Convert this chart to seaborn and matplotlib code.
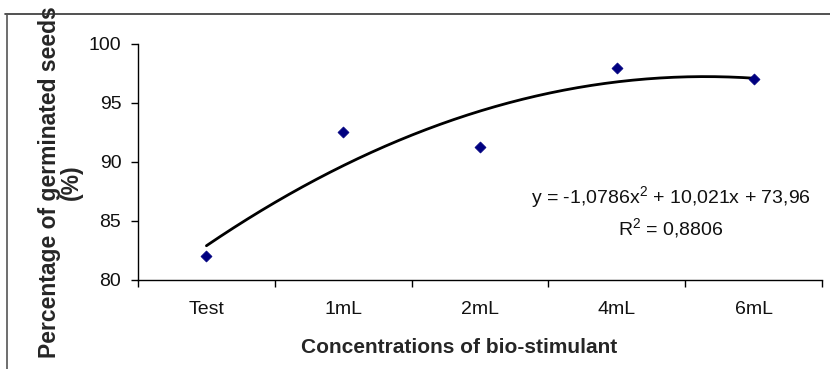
import numpy as np
import pandas as pd
import matplotlib.pyplot as plt
import seaborn as sns

# Data
categories = ['Test', '1mL', '2mL', '4mL', '6mL']
germinated = [82.0, 92.5, 91.3, 98.0, 97.0]
# polynomial trendline coefficients (as printed on the chart)
trend_coef = [-1.0786, 10.021, 73.96]
r_squared = 0.8806

sns.set_theme(style='white')
plt.rcParams['font.family'] = ['Liberation Sans', 'DejaVu Sans']
plt.rcParams['mathtext.fontset'] = 'custom'
plt.rcParams['mathtext.rm'] = 'Liberation Sans'
plt.rcParams['mathtext.it'] = 'Liberation Sans'

df = pd.DataFrame({'pos': np.arange(len(categories)), 'value': germinated})

# smooth trend curve, x in Excel terms runs 1..n
xs = np.linspace(0, len(categories) - 1, 200)
trend = pd.DataFrame({'pos': xs, 'value': np.polyval(trend_coef, xs + 1)})

fig = plt.figure(figsize=(8.3, 3.69), dpi=100)
ax = fig.add_axes([0.1663, 0.2412, 0.824, 0.6396])

sns.lineplot(data=trend, x='pos', y='value', color='black', lw=2, ax=ax)
sns.scatterplot(data=df, x='pos', y='value', marker='D', s=32,
                color='#000080', edgecolor='#000080', ax=ax, zorder=3)

ax.set_xlim(-0.5, len(categories) - 0.5)
ax.set_ylim(80, 100)
ax.set_yticks([80, 85, 90, 95, 100])
ax.set_xticks(np.arange(-0.5, len(categories)))
ax.set_xticklabels([])
ax.set_xticks(np.arange(len(categories)), minor=True)
ax.set_xticklabels(categories, minor=True)
ax.tick_params(axis='x', which='major', direction='out', length=5, width=1, color='black')
ax.tick_params(axis='x', which='minor', length=0, pad=15, labelsize=14, labelcolor='#111111')
ax.tick_params(axis='y', direction='out', length=5, width=1, color='black',
               labelsize=14, pad=7, labelcolor='#111111')
ax.tick_params(bottom=True, left=True)

for side in ['top', 'right']:
    ax.spines[side].set_visible(False)
for side in ['left', 'bottom']:
    ax.spines[side].set_color('black')
    ax.spines[side].set_linewidth(1)

ax.set_xlabel('Concentrations of bio-stimulant', fontsize=15, fontweight='bold')
ax.xaxis.label.set_va('center')
ax.xaxis.set_label_coords(0.469, -0.284)
ax.set_ylabel('Percentage of germinated seeds\n(%)', fontsize=16.5, fontweight='bold',
              linespacing=0.95)
ax.yaxis.label.set_va('center')
ax.yaxis.set_label_coords(-0.114, 0.415)

ax.text(0.779, 0.288, 'y = -1,0786x$^2$ + 10,021x + 73,96\nR$^2$ = 0,8806',
        transform=ax.transAxes, ha='center', va='center', fontsize=14,
        linespacing=1.3, color='#111111')

# page frame lines around the figure
fig.add_artist(plt.Line2D([0.006, 1.0], [0.962, 0.962], color='#333333', lw=1.2))
fig.add_artist(plt.Line2D([0.009, 0.009], [0.0, 0.962], color='#555555', lw=1.2))

fig.savefig('out.png', dpi=100)
